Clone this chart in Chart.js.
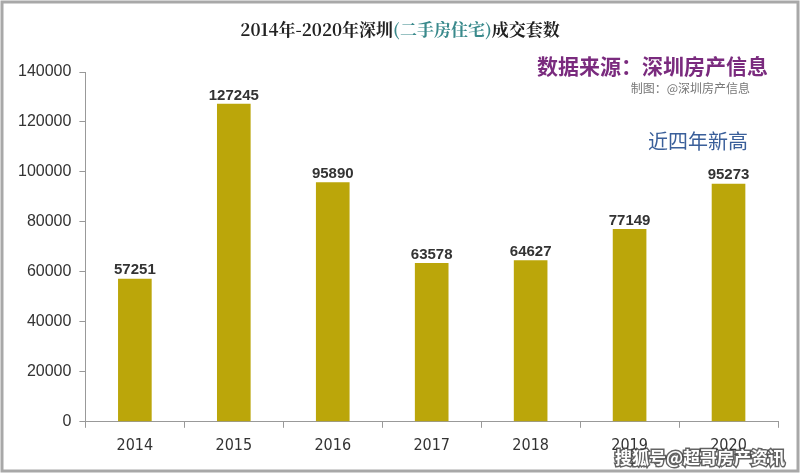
<!DOCTYPE html>
<html>
<head>
<meta charset="utf-8">
<script src="https://cdn.jsdelivr.net/npm/chart.js@4"></script>
<style>
  html, body { margin: 0; padding: 0; background: #fff; }
  #wrap { width: 800px; height: 473px; position: relative; }
</style>
</head>
<body>
<div id="wrap"><canvas id="myChart" width="800" height="473"></canvas></div>
<script>
const years = ['2014', '2015', '2016', '2017', '2018', '2019', '2020'];
const deals = [57251, 127245, 95890, 63578, 64627, 77149, 95273];
const yTicks = [0, 20000, 40000, 60000, 80000, 100000, 120000, 140000];

const cjk = '"Noto Sans CJK SC", sans-serif';

// frame, title, notes and value labels
const decor = {
    id: 'decor',
    beforeDraw(chart) {
        const c = chart.ctx;
        c.save();
        c.fillStyle = '#fff';
        c.fillRect(0, 0, chart.width, chart.height);
        c.strokeStyle = '#a8a8a8';
        c.lineWidth = 3;
        c.strokeRect(2, 2, chart.width - 4, chart.height - 4);
        c.restore();
    },
    afterDraw(chart) {
        const c = chart.ctx;
        c.save();
        c.textBaseline = 'middle';
        // title, with the middle part in teal
        const parts = [['2014年-2020年深圳', '#222'], ['(二手房住宅)', '#3a8a8c'], ['成交套数', '#222']];
        c.font = 'bold 17px "Noto Serif CJK SC", ' + cjk;
        let w = parts.reduce((s, p) => s + c.measureText(p[0]).width, 0);
        let x = 400 - w / 2;
        parts.forEach(p => {
            c.fillStyle = p[1];
            c.textAlign = 'left';
            c.fillText(p[0], x, 30);
            x += c.measureText(p[0]).width;
        });
        c.textAlign = 'right';
        c.fillStyle = '#7a2b7e';
        c.font = 'bold 21px ' + cjk;
        c.fillText('数据来源：深圳房产信息', 768, 66);
        c.fillStyle = '#777';
        c.font = '12px ' + cjk;
        c.fillText('制图：@深圳房产信息', 750, 88);
        c.fillStyle = '#3a5f9a';
        c.font = '20px ' + cjk;
        c.fillText('近四年新高', 748, 141);

        // value labels
        const meta = chart.getDatasetMeta(0);
        c.textAlign = 'center';
        c.textBaseline = 'bottom';
        c.fillStyle = '#333';
        c.font = 'bold 15px Arial, "Liberation Sans", sans-serif';
        meta.data.forEach((bar, i) => {
            c.fillText(deals[i], bar.x, bar.y - 1);
        });

        // watermark
        c.textAlign = 'right';
        c.textBaseline = 'middle';
        c.font = 'bold 17px ' + cjk;
        c.lineWidth = 3;
        c.strokeStyle = 'rgba(60,60,60,0.8)';
        c.strokeText('搜狐号@超哥房产资讯', 785, 458);
        c.fillStyle = '#fff';
        c.fillText('搜狐号@超哥房产资讯', 785, 458);
        c.restore();
    }
};

new Chart(document.getElementById('myChart'), {
    type: 'bar',
    data: {
        labels: years,
        datasets: [{
            data: deals,
            backgroundColor: '#bba60a',
            borderWidth: 0,
            barPercentage: 0.34,
            categoryPercentage: 1
        }]
    },
    options: {
        responsive: false,
        animation: false,
        layout: { padding: { top: 72, right: 22, left: 10, bottom: 10 } },
        plugins: { legend: { display: false }, tooltip: { enabled: false } },
        scales: {
            x: {
                grid: { display: true, drawOnChartArea: false, tickLength: 6, color: '#999' },
                border: { color: '#999' },
                ticks: { color: '#333', font: { size: 16, family: '"Liberation Sans Narrow", "DejaVu Sans Condensed", sans-serif' }, padding: 8 }
            },
            y: {
                min: 0,
                max: 140000,
                afterBuildTicks(axis) { axis.ticks = yTicks.map(v => ({ value: v })); },
                grid: { display: true, drawOnChartArea: false, tickLength: 6, color: '#999' },
                border: { color: '#999' },
                ticks: { color: '#333', font: { size: 16, family: '"Liberation Sans", sans-serif' }, padding: 8, callback: v => String(v) }
            }
        }
    },
    plugins: [decor]
});
</script>
</body>
</html>
